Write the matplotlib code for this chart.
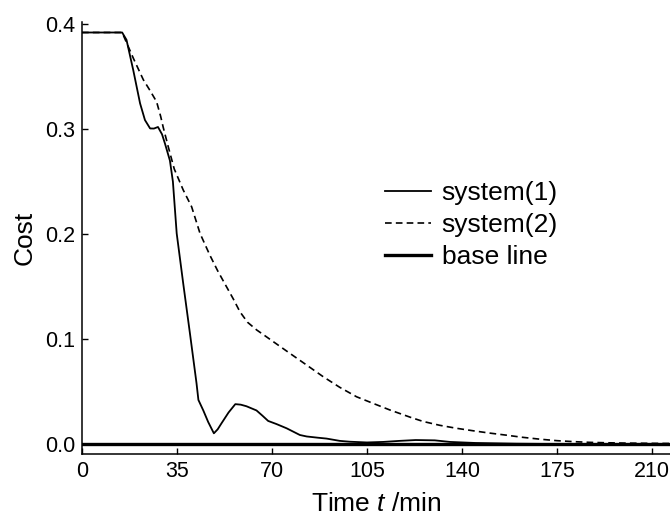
import matplotlib
matplotlib.use("Agg")
import matplotlib.pyplot as plt

plt.rcParams['font.family'] = ['Liberation Sans', 'DejaVu Sans']
plt.rcParams['mathtext.fontset'] = 'custom'
plt.rcParams['mathtext.rm'] = 'Liberation Sans'
plt.rcParams['mathtext.it'] = 'Liberation Sans:italic'

# ---- data ----
t1 = [0, 14.8, 16.4, 18.9, 21.4, 23.2, 25.1, 26.5, 28.0, 29.5, 30.6, 32.4, 33.5,
      34.9, 37.3, 39.8, 42.2, 42.9, 44.7, 46.5, 48.6, 50.0, 51.4, 54.0, 56.5,
      58.5, 60.6, 64.3, 66.5, 68.6, 71.7, 75.4, 80.3, 82.8, 87, 90.1, 95, 98.7,
      105, 111, 117, 123, 130, 135.6, 145, 160, 175, 218]
cost1 = [0.392, 0.392, 0.385, 0.356, 0.3245, 0.3086, 0.3006, 0.3005, 0.302, 0.295,
         0.286, 0.270, 0.250, 0.2006, 0.153, 0.105, 0.058, 0.042, 0.032, 0.021,
         0.0102, 0.014, 0.0197, 0.030, 0.038, 0.0375, 0.036, 0.032, 0.027, 0.022,
         0.019, 0.015, 0.0086, 0.0072, 0.006, 0.0052, 0.003, 0.0022, 0.0015, 0.002,
         0.003, 0.0038, 0.0035, 0.002, 0.001, 0.0003, 0.0, 0.0]

t2 = [0, 14.8, 15.8, 19, 22.6, 25.0, 27.5, 29.0, 29.9, 31.8, 34, 37.3, 40.4, 43.5,
      47.1, 50, 53, 55.8, 58.2, 61, 64.4, 67.5, 70.5, 76.6, 82.8, 88.9, 95, 101.2,
      107.3, 113.5, 117.2, 121, 125.7, 131.9, 138, 144.2, 150, 156.5, 162, 168.8,
      175, 181, 187, 193.3, 200, 208, 218]
cost2 = [0.392, 0.392, 0.386, 0.367, 0.347, 0.337, 0.326, 0.312, 0.302, 0.283,
         0.262, 0.242, 0.226, 0.2006, 0.180, 0.165, 0.151, 0.138, 0.126, 0.116,
         0.1086, 0.103, 0.0975, 0.0864, 0.0752, 0.0641, 0.054, 0.045, 0.0387,
         0.0324, 0.029, 0.0255, 0.0215, 0.0178, 0.0150, 0.0126, 0.0105, 0.0084,
         0.0065, 0.0046, 0.0032, 0.0023, 0.0016, 0.0012, 0.0009, 0.0007, 0.0005]

base_t = [0, 218]
base_cost = [0.0, 0.0]

xticks = [0, 35, 70, 105, 140, 175, 210]
yticks = [0.0, 0.1, 0.2, 0.3, 0.4]
ytick_labels = ['0.0', '0.1', '0.2', '0.3', '0.4']

# ---- figure ----
fig = plt.figure(figsize=(6.7, 5.17), dpi=100)
ax = fig.add_axes([82/670, 63/517, 1 - 82/670, (454 - 22)/517])

ax.plot(t1, cost1, color='black', lw=1.3, label='system(1)')
ax.plot(t2, cost2, color='black', lw=1.2, ls=(0, (4, 2.5)), label='system(2)')
ax.plot(base_t, base_cost, color='black', lw=2.4, label='base line')

ax.set_xlim(0, 216.7)
ax.set_ylim(-0.0095, 0.402)
ax.set_xticks(xticks)
ax.set_yticks(yticks)
ax.set_yticklabels(ytick_labels)

for s in ['top', 'right']:
    ax.spines[s].set_visible(False)
ax.spines['left'].set_linewidth(1.1)
ax.spines['bottom'].set_linewidth(1.1)

ax.tick_params(direction='in', length=4, width=1, labelsize=15.5, pad=5)

ax.set_xlabel(r'Time $\mathit{t}$ /min', fontsize=19, labelpad=7)
ax.set_ylabel('Cost', fontsize=19, labelpad=6)

ax.legend(loc='center left', bbox_to_anchor=(385/670, 1 - 225/517),
          bbox_transform=fig.transFigure, frameon=False, fontsize=19,
          handlelength=1.75, handletextpad=0.4, labelspacing=0.3,
          borderpad=0, borderaxespad=0)

fig.savefig('out.png', dpi=100)
